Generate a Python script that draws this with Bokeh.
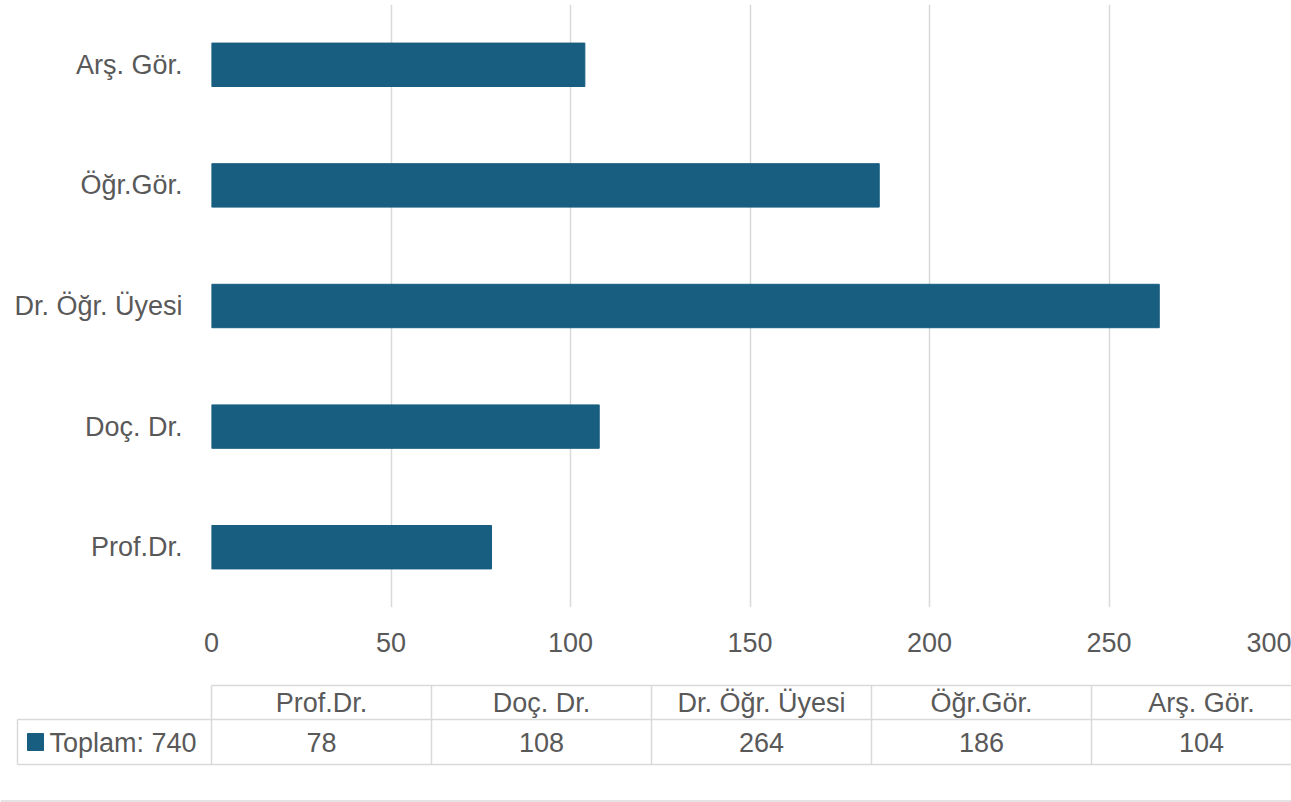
from bokeh.plotting import figure
from bokeh.models import Range1d, FactorRange, FixedTicker, ColumnDataSource
from bokeh.core.properties import value
from bokeh.embed import file_html
from bokeh.resources import INLINE

# ---- data ----
categories = ["Prof.Dr.", "Doç. Dr.", "Dr. Öğr. Üyesi", "Öğr.Gör.", "Arş. Gör."]
values = [78, 108, 264, 186, 104]
series_name = "Toplam"
x_ticks = [0, 50, 100, 150, 200, 250, 300]

BAR = "#185e80"
TXT = "#595959"
GRID = "#d9d9d9"
FONT = "Liberation Sans"
FS = "27px"

# ---- chart ----
p = figure(y_range=FactorRange(factors=categories, range_padding=0),
           x_range=Range1d(0, 300),
           frame_width=1077, frame_height=603,
           min_border_left=211, min_border_right=3, min_border_top=4, min_border_bottom=63,
           output_backend="svg", toolbar_location=None)
p.hbar(y=categories, right=values, height=0.36, color=BAR, line_color=BAR)

p.outline_line_color = None
p.ygrid.grid_line_color = None
p.xgrid.grid_line_color = GRID
p.xgrid.grid_line_width = 1.5
p.xaxis.ticker = FixedTicker(ticks=x_ticks)
for ax in (p.xaxis[0], p.yaxis[0]):
    ax.axis_line_color = None
    ax.major_tick_line_color = None
    ax.minor_tick_line_color = None
    ax.major_label_text_font = FONT
    ax.major_label_text_font_size = FS
    ax.major_label_text_color = TXT
p.xaxis.major_label_standoff = 19
p.yaxis.major_label_standoff = 23

# ---- data table under the chart ----
t = figure(x_range=Range1d(0, 1291), y_range=Range1d(802, 670),
           width=1291, height=132, min_border=0,
           x_axis_location=None, y_axis_location=None,
           output_backend="svg", toolbar_location=None)
t.outline_line_color = None
t.xgrid.grid_line_color = None
t.ygrid.grid_line_color = None

n = len(categories)
x0, cw, xl = 211, 220, 17
y_top, y_mid, y_bot = 685, 719, 764
x_end = x0 + n * cw

hx0 = [x0, xl, xl]
hx1 = [x_end, x_end, x_end]
hy = [y_top, y_mid, y_bot]
t.segment(x0=hx0, y0=hy, x1=hx1, y1=hy, line_color=GRID, line_width=1.5)
vx = [xl] + [x0 + i * cw for i in range(n + 1)]
vy0 = [y_mid] + [y_top] * (n + 1)
vy1 = [y_bot] * (n + 2)
t.segment(x0=vx, y0=vy0, x1=vx, y1=vy1, line_color=GRID, line_width=1.5)
# chart area bottom border
t.segment(x0=[0], y0=[800.5], x1=[1291], y1=[800.5], line_color="#e3e3e3", line_width=2)

centers = [x0 + (i + 0.5) * cw for i in range(n)]
src = ColumnDataSource(dict(x=centers, cat=categories,
                            val=[str(v) for v in values]))
t.text(x="x", y=702, text="cat", source=src, text_align="center", text_baseline="middle",
       text_font=value(FONT), text_font_size=value(FS), text_color=TXT)
t.text(x="x", y=742, text="val", source=src, text_align="center", text_baseline="middle",
       text_font=value(FONT), text_font_size=value(FS), text_color=TXT)
t.rect(x=[35], y=[741.5], width=16, height=17, color=BAR)
t.text(x=[49], y=[742], text=[f"{series_name}: {sum(values)}"], text_align="left",
       text_baseline="middle", text_font=value(FONT), text_font_size=value(FS), text_color=TXT)

open("out.html", "w").write(file_html([p, t], INLINE))
